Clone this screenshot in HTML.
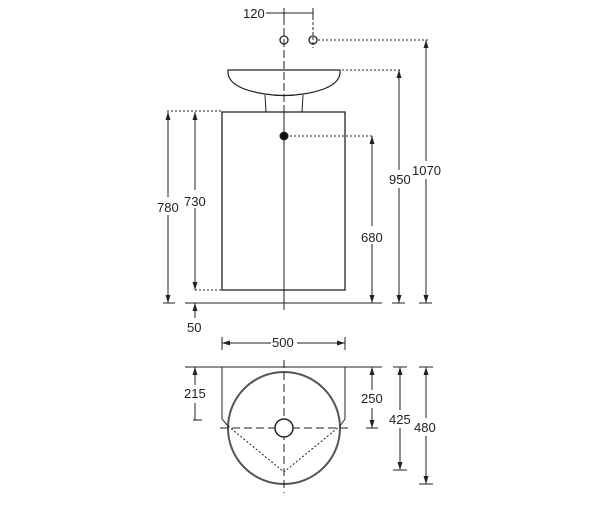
<!DOCTYPE html><html><head><style>body{margin:0;background:#fff}text{font-family:"Liberation Sans",sans-serif;font-size:13px;fill:#222}</style></head><body>
<svg width="600" height="500" viewBox="0 0 600 500" xmlns="http://www.w3.org/2000/svg">
<defs><marker id="a" markerWidth="9" markerHeight="8" refX="8" refY="4" orient="auto-start-reverse" markerUnits="userSpaceOnUse"><path d="M8,4 L0,1.5 L0,6.5Z" fill="#222"/></marker></defs>
<g stroke="#222" fill="none" stroke-width="1">
<line x1="266" y1="13" x2="313" y2="13"/><line x1="284" y1="8" x2="284" y2="17"/><line x1="313" y1="8" x2="313" y2="17"/>
<line x1="313" y1="17" x2="313" y2="48" stroke-dasharray="3,2"/>
<line x1="284" y1="17" x2="284" y2="112" stroke-dasharray="8,3"/>
<circle cx="284" cy="40" r="4" stroke-width="1.3"/><circle cx="313" cy="40" r="4" stroke-width="1.3"/>
<line x1="318" y1="40" x2="430" y2="40" stroke-dasharray="2,2"/>
<path d="M228,70 L340,70 Q342,88 303,94 Q284,97 265,94 Q226,88 228,70Z" stroke-width="1.2"/>
<line x1="265" y1="95" x2="266" y2="112"/><line x1="303" y1="95" x2="302" y2="112"/>
<line x1="342" y1="70" x2="402" y2="70" stroke-dasharray="2,2"/>
<rect x="222" y="112" width="123" height="178" stroke-width="1.3"/>
<line x1="284" y1="112" x2="284" y2="310"/>
<circle cx="284" cy="136" r="4" fill="#111"/>
<line x1="290" y1="136" x2="374" y2="136" stroke-dasharray="2,2"/>
<line x1="167" y1="111" x2="221" y2="111" stroke-dasharray="2,2"/>
<line x1="195" y1="290" x2="221" y2="290" stroke-dasharray="2,2"/>
<line x1="185" y1="303" x2="382" y2="303"/>
<line x1="168" y1="112" x2="168" y2="303" marker-start="url(#a)" marker-end="url(#a)"/><line x1="163" y1="303" x2="175" y2="303"/>
<line x1="195" y1="112" x2="195" y2="290" marker-start="url(#a)" marker-end="url(#a)"/>
<line x1="195" y1="303" x2="195" y2="318" marker-start="url(#a)"/>
<line x1="372" y1="136" x2="372" y2="303" marker-start="url(#a)" marker-end="url(#a)"/>
<line x1="399" y1="70" x2="399" y2="303" marker-start="url(#a)" marker-end="url(#a)"/><line x1="392" y1="303" x2="405" y2="303"/>
<line x1="426" y1="40" x2="426" y2="303" marker-start="url(#a)" marker-end="url(#a)"/><line x1="419" y1="303" x2="432" y2="303"/>
<line x1="222" y1="343" x2="345" y2="343" marker-start="url(#a)" marker-end="url(#a)"/>
<line x1="222" y1="337" x2="222" y2="350"/><line x1="345" y1="337" x2="345" y2="350"/>
<line x1="185" y1="367" x2="382" y2="367"/>
<circle cx="284" cy="428" r="56" stroke-width="2" stroke="#555"/>
<path d="M222,367 L222,419 L228,426 M345,367 L345,419 L340,426"/>
<line x1="220" y1="428" x2="348" y2="428" stroke-dasharray="8,4"/>
<line x1="284" y1="360" x2="284" y2="493" stroke-dasharray="8,4"/>
<circle cx="284" cy="428" r="9" stroke-width="1.5" fill="#fff"/>
<path d="M228,426 L284,472 L340,426" stroke-dasharray="2,2"/>
<line x1="195" y1="367" x2="195" y2="420" marker-start="url(#a)"/><line x1="193" y1="420" x2="202" y2="420"/>
<line x1="372" y1="367" x2="372" y2="428" marker-start="url(#a)" marker-end="url(#a)"/><line x1="366" y1="428" x2="378" y2="428"/>
<line x1="400" y1="367" x2="400" y2="470" marker-start="url(#a)" marker-end="url(#a)"/><line x1="393" y1="367" x2="407" y2="367"/><line x1="393" y1="470" x2="407" y2="470"/>
<line x1="426" y1="367" x2="426" y2="484" marker-start="url(#a)" marker-end="url(#a)"/><line x1="419" y1="367" x2="433" y2="367"/><line x1="419" y1="484" x2="433" y2="484"/>
</g>
<g>
<rect x="271" y="336" width="26" height="14" fill="#fff"/>
<rect x="159" y="197" width="20" height="18" fill="#fff"/><rect x="185" y="190" width="22" height="18" fill="#fff"/>
<rect x="361" y="226" width="22" height="18" fill="#fff"/><rect x="389" y="170" width="22" height="18" fill="#fff"/><rect x="412" y="161" width="30" height="18" fill="#fff"/>
<rect x="361" y="390" width="22" height="18" fill="#fff"/><rect x="389" y="410" width="22" height="18" fill="#fff"/><rect x="414" y="418" width="24" height="18" fill="#fff"/>
<rect x="183" y="385" width="24" height="18" fill="#fff"/>
</g>
<text x="243" y="18">120</text>
<text x="157" y="212">780</text>
<text x="184" y="206">730</text>
<text x="361" y="242">680</text>
<text x="389" y="184">950</text>
<text x="412" y="175">1070</text>
<text x="187" y="332">50</text>
<text x="272" y="347">500</text>
<text x="184" y="398">215</text>
<text x="361" y="403">250</text>
<text x="389" y="424">425</text>
<text x="414" y="432">480</text>
</svg></body></html>
